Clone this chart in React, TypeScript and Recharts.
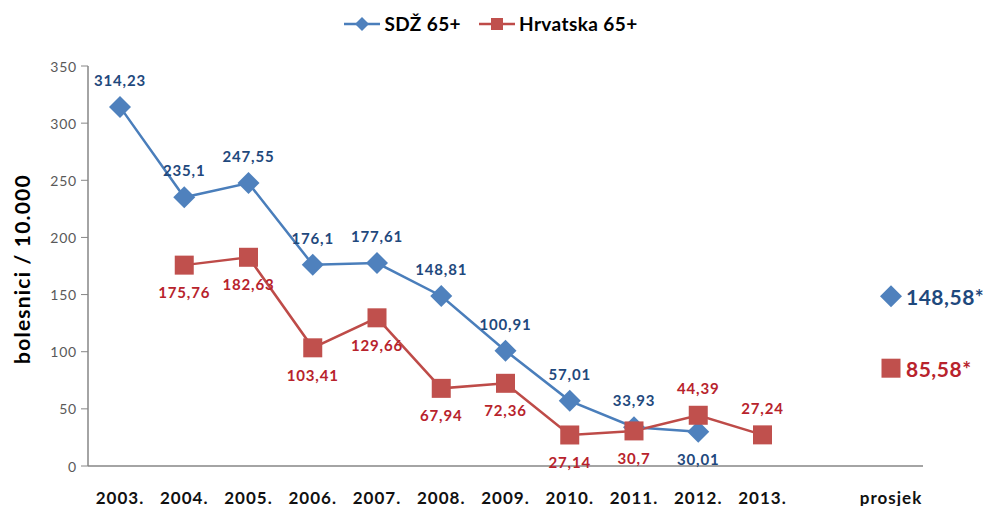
import { LineChart, Line, XAxis, YAxis, Legend, LabelList } from "recharts";

const CATEGORIES = ["2003.", "2004.", "2005.", "2006.", "2007.", "2008.", "2009.", "2010.", "2011.", "2012.", "2013.", "", "prosjek"];
const SDZ = [314.23, 235.1, 247.55, 176.1, 177.61, 148.81, 100.91, 57.01, 33.93, 30.01, null, null, null];
const HRV = [null, 175.76, 182.63, 103.41, 129.66, 67.94, 72.36, 27.14, 30.7, 44.39, 27.24, null, null];
const SDZ_AVG = 148.58;
const HRV_AVG = 85.58;
const Y_TICKS = [0, 50, 100, 150, 200, 250, 300, 350];

// which labels sit under the point instead of above it
const SDZ_BELOW = ["2012."];
const HRV_ABOVE = ["2012.", "2013."];

const BLUE = "#4F81BD";
const BLUE_LINE = "#4A7EBB";
const BLUE_TEXT = "#1F497D";
const RED = "#C0504D";
const RED_LINE = "#BE4B48";
const RED_TEXT = "#B8232C";
const AXIS = "#868686";
const FONT = "Lato, 'Open Sans', sans-serif";

const data = CATEGORIES.map((year, i) => ({
  year,
  sdz: SDZ[i],
  hrv: HRV[i],
  sdzAvg: year === "prosjek" ? SDZ_AVG : null,
  hrvAvg: year === "prosjek" ? HRV_AVG : null,
}));

const fmt = (v: number) => String(v).replace(".", ",");

function Diamond({ cx, cy, r = 11, fill = BLUE }: any) {
  if (cx == null || cy == null) return null;
  return <polygon points={`${cx},${cy - r} ${cx + r},${cy} ${cx},${cy + r} ${cx - r},${cy}`} fill={fill} />;
}

function Square({ cx, cy, s = 19, fill = RED }: any) {
  if (cx == null || cy == null) return null;
  return <rect x={cx - s / 2} y={cy - s / 2} width={s} height={s} fill={fill} />;
}

function pointLabel(color: string, below: (i: number) => boolean) {
  return (p: any) => {
    if (p.value == null || p.x == null) return null;
    const dy = below(p.index) ? 27 : -27;
    return (
      <text
        x={p.x}
        y={p.y + dy}
        textAnchor="middle"
        dominantBaseline="central"
        fill={color}
        fontFamily={FONT}
        fontWeight={700}
        fontSize={15}
        letterSpacing={0.8}
      >
        {fmt(p.value)}
      </text>
    );
  };
}

function avgLabel(color: string) {
  return (p: any) => {
    if (p.value == null || p.x == null) return null;
    return (
      <text
        x={p.x + 15}
        y={p.y}
        dominantBaseline="central"
        fill={color}
        fontFamily={FONT}
        fontWeight={700}
        fontSize={21}
        letterSpacing={0.5}
      >
        {fmt(p.value) + "*"}
      </text>
    );
  };
}

function XTick({ x, y, payload }: any) {
  return (
    <text x={x} y={y + 23} textAnchor="middle" dominantBaseline="central" fill="#111" fontFamily={FONT} fontWeight={700} fontSize={17} letterSpacing={1}>
      {payload.value}
    </text>
  );
}

function YTick({ x, y, payload }: any) {
  return (
    <text x={x - 2} y={y} textAnchor="end" dominantBaseline="central" fill="#595959" fontFamily={FONT} fontSize={14} letterSpacing={0.8}>
      {payload.value}
    </text>
  );
}

function YTitle({ viewBox }: any) {
  const cx = 21;
  const cy = viewBox.y + viewBox.height / 2 + 3;
  return (
    <text x={cx} y={cy} transform={`rotate(-90 ${cx} ${cy})`} textAnchor="middle" dominantBaseline="central" fill="#000" fontFamily={FONT} fontWeight={700} fontSize={21} letterSpacing={1.2}>
      bolesnici / 10.000
    </text>
  );
}

function LegendBox() {
  const item = (label: string, color: string, line: string, marker: "d" | "s") => (
    <div style={{ display: "flex", alignItems: "center", marginRight: 18 }}>
      <svg width={36} height={22}>
        <line x1={0} y1={11} x2={36} y2={11} stroke={line} strokeWidth={2.5} />
        {marker === "d" ? <Diamond cx={18} cy={11} r={7} /> : <Square cx={18} cy={11} s={12} />}
      </svg>
      <span style={{ marginLeft: 4, fontFamily: FONT, fontWeight: 700, fontSize: 19, color: "#000", letterSpacing: 0.4 }}>{label}</span>
    </div>
  );
  return (
    <div style={{ display: "flex", justifyContent: "center", marginLeft: 10 }}>
      {item("SDŽ 65+", BLUE, BLUE_LINE, "d")}
      {item("Hrvatska 65+", RED, RED_LINE, "s")}
    </div>
  );
}

export default function App() {
  return (
    <div style={{ position: "absolute", left: 0, top: 0, width: 990, height: 506, background: "#fff" }}>
      <LineChart width={990} height={506} data={data} margin={{ top: 66, right: 67, bottom: 10, left: 28 }}>
        <XAxis
          dataKey="year"
          height={30}
          tickLine={false}
          axisLine={{ stroke: AXIS, strokeWidth: 1.5 }}
          tick={<XTick />}
          interval={0}
          padding={{ left: 32, right: 32 }}
        />
        <YAxis
          width={60}
          domain={[0, 350]}
          ticks={Y_TICKS}
          axisLine={{ stroke: AXIS, strokeWidth: 1.5 }}
          tickLine={{ stroke: AXIS }}
          tickSize={7}
          tick={<YTick />}
          label={<YTitle />}
        />
        <Legend
          verticalAlign="middle"
          content={() => <LegendBox />}
          wrapperStyle={{ top: 12, left: 0, width: 990 }}
        />
        <Line
          dataKey="sdz"
          stroke={BLUE_LINE}
          strokeWidth={2.5}
          dot={(p: any) => <Diamond key={`d${p.index}`} cx={p.cx} cy={p.cy} />}
          activeDot={false}
          isAnimationActive={false}
        >
          <LabelList dataKey="sdz" content={pointLabel(BLUE_TEXT, (i) => SDZ_BELOW.includes(CATEGORIES[i]))} />
        </Line>
        <Line
          dataKey="hrv"
          stroke={RED_LINE}
          strokeWidth={2.5}
          dot={(p: any) => <Square key={`s${p.index}`} cx={p.cx} cy={p.cy} />}
          activeDot={false}
          isAnimationActive={false}
        >
          <LabelList dataKey="hrv" content={pointLabel(RED_TEXT, (i) => !HRV_ABOVE.includes(CATEGORIES[i]))} />
        </Line>
        <Line
          dataKey="sdzAvg"
          stroke="none"
          dot={(p: any) => <Diamond key={`a${p.index}`} cx={p.cx} cy={p.cy} />}
          activeDot={false}
          isAnimationActive={false}
        >
          <LabelList dataKey="sdzAvg" content={avgLabel(BLUE_TEXT)} />
        </Line>
        <Line
          dataKey="hrvAvg"
          stroke="none"
          dot={(p: any) => <Square key={`b${p.index}`} cx={p.cx} cy={p.cy} />}
          activeDot={false}
          isAnimationActive={false}
        >
          <LabelList dataKey="hrvAvg" content={avgLabel(RED_TEXT)} />
        </Line>
      </LineChart>
    </div>
  );
}
